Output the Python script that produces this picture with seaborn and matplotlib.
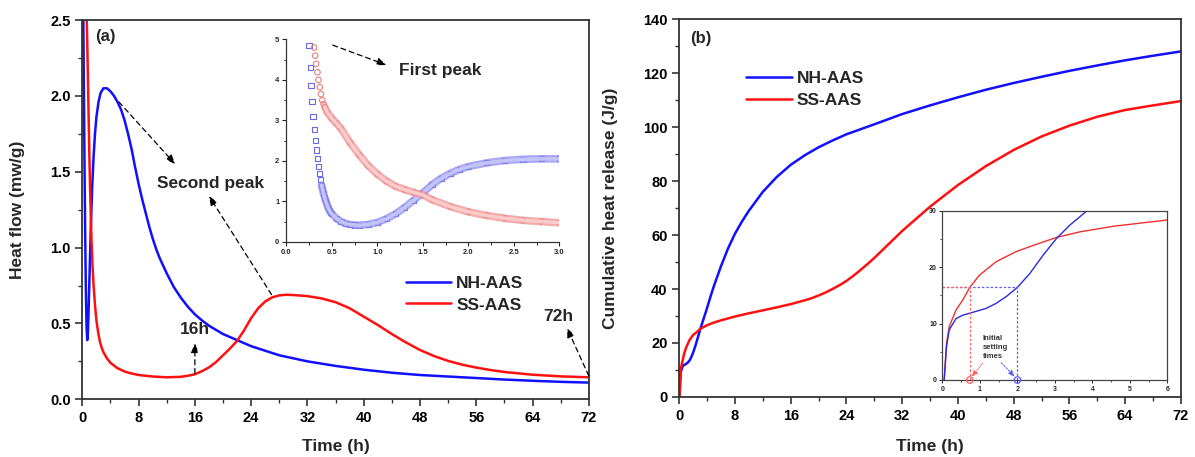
import matplotlib
matplotlib.use("Agg")
import matplotlib.pyplot as plt
import seaborn as sns
import pandas as pd

# ---------------- data ----------------
# (a) heat flow, main panel
nh_flow_t = [0.14, 0.2, 0.3, 0.4, 0.5, 0.6, 0.7, 0.8, 0.9, 1.0, 1.2, 1.4, 1.6, 1.8, 2.0, 2.3, 2.6,
             3.0, 3.5, 4.0, 4.5, 5.0, 5.5, 6.0, 6.5, 7.0, 7.5, 8.0, 8.5, 9.0, 9.5, 10, 10.5, 11, 12,
             13, 14, 15, 16, 17, 18, 20, 22, 24, 26, 28, 30, 32, 36, 40, 44, 48, 52, 56, 60, 64,
             68, 72]
nh_flow = [2.5, 2.15, 1.6, 1.1, 0.72, 0.48, 0.39, 0.45, 0.6, 0.78, 1.12, 1.4, 1.6, 1.75, 1.86, 1.96,
           2.02, 2.05, 2.05, 2.03, 2.0, 1.96, 1.91, 1.84, 1.75, 1.65, 1.53, 1.42, 1.32, 1.23, 1.14,
           1.06, 0.99, 0.93, 0.83, 0.74, 0.67, 0.61, 0.56, 0.52, 0.485, 0.43, 0.39, 0.35, 0.32,
           0.29, 0.27, 0.25, 0.22, 0.195, 0.175, 0.16, 0.15, 0.14, 0.13, 0.122, 0.115, 0.11]
ss_flow_t = [0.63, 0.7, 0.8, 0.9, 1.0, 1.15, 1.3, 1.45, 1.6, 1.8, 2.0, 2.25, 2.5, 2.75, 3, 3.5, 4,
             5, 6, 7, 8, 10, 12, 14, 15, 16, 17, 18, 19, 20, 21, 22, 23, 24, 25, 26, 27, 28, 29,
             30, 32, 34, 36, 38, 40, 42, 44, 46, 48, 50, 52, 54, 56, 58, 60, 64, 68, 72]
ss_flow = [2.5, 2.35, 2.1, 1.85, 1.6, 1.3, 1.05, 0.88, 0.75, 0.62, 0.52, 0.44, 0.38, 0.34, 0.31,
           0.27, 0.24, 0.205, 0.183, 0.17, 0.16, 0.15, 0.145, 0.148, 0.155, 0.165, 0.185, 0.21,
           0.245, 0.29, 0.335, 0.385, 0.455, 0.535, 0.6, 0.645, 0.672, 0.685, 0.689, 0.687, 0.68,
           0.665, 0.64, 0.6, 0.545, 0.49, 0.43, 0.375, 0.325, 0.285, 0.253, 0.228, 0.209, 0.193,
           0.18, 0.162, 0.151, 0.145]

# (a) inset: first peak
fp_nh_t = [0.25, 0.265, 0.272, 0.283, 0.294, 0.309, 0.32, 0.331, 0.342, 0.353, 0.364, 0.375, 0.386,
           0.397, 0.408, 0.419, 0.43, 0.441, 0.452, 0.463, 0.474, 0.485, 0.5, 0.55, 0.6, 0.65, 0.7,
           0.75, 0.8, 0.9, 1.0, 1.1, 1.2, 1.3, 1.4, 1.5, 1.6, 1.7, 1.8, 1.9, 2.0, 2.2, 2.4, 2.6,
           2.8, 3.0]
fp_nh = [4.85, 4.31, 3.87, 3.46, 3.1, 2.77, 2.5, 2.27, 2.05, 1.86, 1.68, 1.53, 1.40, 1.29, 1.19,
         1.1, 1.02, 0.95, 0.88, 0.82, 0.77, 0.73, 0.69, 0.58, 0.5, 0.45, 0.43, 0.415, 0.41, 0.43,
         0.48, 0.57, 0.69, 0.85, 1.03, 1.21, 1.41, 1.57, 1.69, 1.79, 1.86, 1.95, 2.01, 2.04, 2.05, 2.05]
fp_ss_t = [0.305, 0.317, 0.328, 0.342, 0.353, 0.368, 0.38, 0.395, 0.41, 0.423, 0.45, 0.5, 0.55, 0.6,
           0.7, 0.8, 0.9, 1.0, 1.1, 1.2, 1.3, 1.4, 1.5, 1.6, 1.8, 2.0, 2.2, 2.4, 2.6, 2.8, 3.0]
fp_ss = [4.8, 4.6, 4.4, 4.19, 4.0, 3.82, 3.65, 3.5, 3.4, 3.33, 3.2, 3.05, 2.93, 2.8, 2.45, 2.15,
         1.88, 1.67, 1.5, 1.37, 1.29, 1.22, 1.16, 1.04, 0.87, 0.74, 0.65, 0.58, 0.53, 0.5, 0.47]

# (b) cumulative heat, main panel
nh_cum_t = [0, 0.05, 0.2, 0.5, 1.0, 1.25, 1.5, 1.75, 2.0, 2.25, 2.5, 3.0, 3.5, 4.0, 4.5, 5, 6, 7, 8,
            9, 10, 12, 14, 16, 18, 20, 22, 24, 28, 32, 36, 40, 44, 48, 52, 56, 60, 64, 68, 72]
nh_cum = [0, 0, 9, 11.5, 12.3, 12.8, 13.6, 14.9, 16.5, 18.4, 20.5, 25, 29, 33, 37.3, 41.3, 48.5, 55,
          60.5, 65, 69, 76, 81.5, 86, 89.5, 92.5, 95, 97.3, 101, 104.8, 108, 111, 113.8, 116.3,
          118.6, 120.8, 122.8, 124.7, 126.4, 128]
ss_cum_t = [0, 0.05, 0.1, 0.2, 0.4, 0.7, 1.0, 1.5, 2, 2.5, 3, 4, 5, 6, 8, 10, 12, 14, 16, 18, 19,
            20, 21, 22, 23, 24, 25, 26, 27, 28, 29, 30, 32, 34, 36, 38, 40, 42, 44, 46, 48, 52,
            56, 60, 64, 68, 72]
ss_cum = [0, 0, 6, 10, 12.6, 16, 18.4, 21.2, 23, 24, 25.2, 26.6, 27.6, 28.4, 29.8, 31, 32.1, 33.2,
          34.4, 35.8, 36.6, 37.6, 38.7, 40, 41.4, 43, 44.9, 47, 49.2, 51.5, 54, 56.5, 61.5, 66,
          70.5, 74.5, 78.5, 82, 85.5, 88.5, 91.5, 96.5, 100.5, 103.8, 106.3, 108, 109.6]

# (b) inset: early cumulative heat
in_nh_t = [0.045, 0.107, 0.18, 0.36, 0.54, 0.8, 1.16, 1.43, 1.7, 2.0, 2.33, 2.69, 3.04, 3.4, 3.85]
in_nh = [0, 5.9, 8.9, 10.9, 11.5, 12.0, 12.7, 13.6, 14.8, 16.45, 18.9, 22.2, 25.1, 27.5, 30]
in_ss_t = [0.045, 0.107, 0.18, 0.36, 0.54, 0.73, 0.985, 1.43, 1.97, 2.51, 3.04, 3.67, 4.57, 6.0]
in_ss = [0, 6.5, 9.5, 12.4, 14.2, 16.45, 18.6, 21.0, 22.8, 24.1, 25.3, 26.3, 27.3, 28.4]
set_heat = 16.45
set_time_ss = 0.73
set_time_nh = 2.0

labels = ["NH-AAS", "SS-AAS"]

BLUE = "#1010ff"
RED = "#ff1010"

# ---------------- style ----------------
sns.set_style("ticks")
plt.rcParams["font.family"] = ["Liberation Sans", "DejaVu Sans"]
plt.rcParams["font.weight"] = "bold"
plt.rcParams["axes.labelweight"] = "bold"
plt.rcParams["axes.edgecolor"] = "#333333"
plt.rcParams["axes.linewidth"] = 1.3

fig = plt.figure(figsize=(11.95, 4.57), dpi=100)
axA = fig.add_axes([0.0689, 0.1263, 0.4238, 0.8299])
axB = fig.add_axes([0.5684, 0.1313, 0.4198, 0.8271])

def style_main(ax):
    for s in ax.spines.values():
        s.set_visible(True)
        s.set_linewidth(1.3)
        s.set_color("#333333")
    ax.tick_params(which="major", direction="out", length=5, width=1.2, labelsize=10.5,
                   colors="#333333", labelcolor="black")
    ax.tick_params(which="minor", direction="out", length=3, width=1.0, colors="#333333")
    for lab in ax.get_xticklabels() + ax.get_yticklabels():
        lab.set_fontweight("bold")

dash = (0, (4, 3))
arrow_kw = dict(arrowstyle="-|>,head_width=0.22,head_length=0.55", color="black", lw=0.9,
                linestyle=dash, shrinkA=0, shrinkB=0)

# ---------- panel (a) ----------
dfa_nh = pd.DataFrame({"t": nh_flow_t, "v": nh_flow})
dfa_ss = pd.DataFrame({"t": ss_flow_t, "v": ss_flow})
sns.lineplot(data=dfa_nh, x="t", y="v", ax=axA, color=BLUE, lw=1.8, label=labels[0])
sns.lineplot(data=dfa_ss, x="t", y="v", ax=axA, color=RED, lw=1.8, label=labels[1])
axA.set_xlim(0, 72)
axA.set_ylim(0, 2.5)
axA.set_xticks(range(0, 73, 8))
axA.set_xticks(range(4, 72, 8), minor=True)
axA.set_yticks([0, 0.5, 1.0, 1.5, 2.0, 2.5])
axA.set_yticks([0.25, 0.75, 1.25, 1.75, 2.25], minor=True)
axA.set_yticklabels(["0.0", "0.5", "1.0", "1.5", "2.0", "2.5"])
axA.set_xlabel("Time (h)", fontsize=12.5, fontweight="bold")
axA.set_ylabel("Heat flow (mw/g)", fontsize=12.5, fontweight="bold")
axA.xaxis.set_label_coords(0.5, -0.105)
axA.yaxis.set_label_coords(-0.113, 0.5)
style_main(axA)
axA.legend(loc="upper left", bbox_to_anchor=(0.625, 0.343), frameon=False, fontsize=12.5,
           handlelength=2.6, handletextpad=0.3, labelspacing=0.35, borderaxespad=0)
axA.text(1.8, 2.39, "(a)", fontsize=12, fontweight="bold", va="center", ha="left")

axA.annotate("", xy=(13.2, 1.55), xytext=(5.2, 1.96), arrowprops=arrow_kw)
axA.text(10.6, 1.425, "Second peak", fontsize=12.5, fontweight="bold", va="center", ha="left")
axA.annotate("", xy=(18.0, 1.34), xytext=(26.9, 0.69), arrowprops=arrow_kw)
axA.annotate("", xy=(16.0, 0.37), xytext=(16.0, 0.17), arrowprops=arrow_kw)
axA.text(16.0, 0.46, "16h", fontsize=12.5, fontweight="bold", va="center", ha="center")
axA.annotate("", xy=(68.9, 0.47), xytext=(72.0, 0.155), arrowprops=arrow_kw,
             annotation_clip=False)
axA.text(67.7, 0.545, "72h", fontsize=12.5, fontweight="bold", va="center", ha="center")

# inset of (a)
insA = fig.add_axes([0.2396, 0.4709, 0.2286, 0.4427])
insA.patch.set_alpha(0)
df_fn = pd.DataFrame({"t": fp_nh_t, "v": fp_nh})
df_fs = pd.DataFrame({"t": fp_ss_t, "v": fp_ss})
sns.lineplot(data=df_fn.iloc[12:], x="t", y="v", ax=insA, color="#8c8cf0", lw=5.5, alpha=0.75)
sns.lineplot(data=df_fn.iloc[12:], x="t", y="v", ax=insA, color="#c4c4f8", lw=2.5)
sns.lineplot(data=df_fs.iloc[9:], x="t", y="v", ax=insA, color="#f09090", lw=5.5, alpha=0.75)
sns.lineplot(data=df_fs.iloc[9:], x="t", y="v", ax=insA, color="#fbcaca", lw=2.5)
sns.scatterplot(data=df_fn, x="t", y="v", ax=insA, marker="s", s=14, facecolors="none",
                edgecolor="#6a6ae6", linewidth=0.8)
sns.scatterplot(data=df_fs, x="t", y="v", ax=insA, marker="o", s=16, facecolors="none",
                edgecolor="#ee7d7d", linewidth=0.8)
insA.set_xlim(0, 3.0)
insA.set_ylim(0, 5)
insA.set_xticks([0, 0.5, 1.0, 1.5, 2.0, 2.5, 3.0])
insA.set_xticklabels(["0.0", "0.5", "1.0", "1.5", "2.0", "2.5", "3.0"])
insA.set_xticks([0.25, 0.75, 1.25, 1.75, 2.25, 2.75], minor=True)
insA.set_yticks([0, 1, 2, 3, 4, 5])
insA.set_yticks([0.5, 1.5, 2.5, 3.5, 4.5], minor=True)
insA.set_xlabel("")
insA.set_ylabel("")
for s in ["top", "right"]:
    insA.spines[s].set_visible(False)
for s in ["left", "bottom"]:
    insA.spines[s].set_linewidth(0.9)
    insA.spines[s].set_color("#333333")
insA.tick_params(which="major", direction="out", length=3, width=0.8, labelsize=5.5, pad=2)
insA.tick_params(which="minor", direction="out", length=1.8, width=0.7)
for lab in insA.get_xticklabels() + insA.get_yticklabels():
    lab.set_fontweight("bold")
insA.annotate("", xy=(1.10, 4.37), xytext=(0.51, 4.86), arrowprops=arrow_kw)
insA.text(1.24, 4.23, "First peak", fontsize=12.5, fontweight="bold", va="center", ha="left")

# ---------- panel (b) ----------
dfb_nh = pd.DataFrame({"t": nh_cum_t, "v": nh_cum})
dfb_ss = pd.DataFrame({"t": ss_cum_t, "v": ss_cum})
sns.lineplot(data=dfb_nh, x="t", y="v", ax=axB, color=BLUE, lw=1.8, label=labels[0])
sns.lineplot(data=dfb_ss, x="t", y="v", ax=axB, color=RED, lw=1.8, label=labels[1])
axB.set_xlim(0, 72)
axB.set_ylim(0, 140)
axB.set_xticks(range(0, 73, 8))
axB.set_xticks(range(4, 72, 8), minor=True)
axB.set_yticks(range(0, 141, 20))
axB.set_yticks(range(10, 140, 20), minor=True)
axB.set_xlabel("Time (h)", fontsize=12.5, fontweight="bold")
axB.set_ylabel("Cumulative heat release (J/g)", fontsize=12.5, fontweight="bold")
axB.xaxis.set_label_coords(0.5, -0.11)
axB.yaxis.set_label_coords(-0.123, 0.5)
style_main(axB)
axB.legend(loc="upper left", bbox_to_anchor=(0.12, 0.88), frameon=False, fontsize=12.5,
           handlelength=2.6, handletextpad=0.3, labelspacing=0.35, borderaxespad=0)
axB.text(1.5, 132.7, "(b)", fontsize=12, fontweight="bold", va="center", ha="left")

# inset of (b)
insB = fig.add_axes([0.7887, 0.1685, 0.1881, 0.3698])
df_in_nh = pd.DataFrame({"t": in_nh_t, "v": in_nh})
df_in_ss = pd.DataFrame({"t": in_ss_t, "v": in_ss})
sns.lineplot(data=df_in_ss, x="t", y="v", ax=insB, color="#f03030", lw=1.0)
sns.lineplot(data=df_in_nh, x="t", y="v", ax=insB, color="#2a2ae0", lw=1.0)
insB.set_xlim(0, 6)
insB.set_ylim(0, 30)
insB.set_xticks(range(0, 7))
insB.set_xticks([0.5, 1.5, 2.5, 3.5, 4.5, 5.5], minor=True)
insB.set_yticks([0, 10, 20, 30])
insB.set_yticks([5, 15, 25], minor=True)
insB.set_xlabel("")
insB.set_ylabel("")
for s in insB.spines.values():
    s.set_visible(True)
    s.set_linewidth(0.9)
    s.set_color("#444444")
insB.tick_params(which="major", direction="out", length=2.5, width=0.7, labelsize=5, pad=1.5)
insB.tick_params(which="minor", direction="out", length=1.5, width=0.6)
for lab in insB.get_xticklabels() + insB.get_yticklabels():
    lab.set_fontweight("bold")
guide_blue = "#5a5aff"
guide_red = "#ff6060"
insB.plot([0, set_time_nh], [set_heat, set_heat], color=guide_blue, lw=0.9, ls=(0, (2, 1.5)))
insB.plot([0, set_time_ss], [set_heat, set_heat], color=guide_red, lw=0.9, ls=(0, (2, 1.5)))
insB.plot([set_time_ss, set_time_ss], [0, set_heat], color=guide_red, lw=0.9, ls=(0, (2, 1.5)))
insB.plot([set_time_nh, set_time_nh], [0, set_heat], color=guide_blue, lw=0.9, ls=(0, (2, 1.5)))
insB.scatter([set_time_ss], [0], s=22, facecolors="none", edgecolors=guide_red, lw=0.9,
             clip_on=False, zorder=5)
insB.scatter([set_time_nh], [0], s=22, facecolors="none", edgecolors=guide_blue, lw=0.9,
             clip_on=False, zorder=5)
insB.text(1.08, 7.9, "Initial\nsetting\ntimes", fontsize=5.5, fontweight="bold",
          va="top", ha="left", color="#333333", linespacing=1.35)
small_arrow = dict(arrowstyle="-|>,head_width=0.15,head_length=0.35", lw=0.7,
                   linestyle=(0, (2, 1.5)), shrinkA=0, shrinkB=0)
insB.annotate("", xy=(0.78, 0.6), xytext=(1.07, 2.96), arrowprops=dict(color=guide_red, **small_arrow))
insB.annotate("", xy=(1.92, 0.6), xytext=(1.57, 3.08), arrowprops=dict(color=guide_blue, **small_arrow))

fig.savefig("out.png", dpi=100)
